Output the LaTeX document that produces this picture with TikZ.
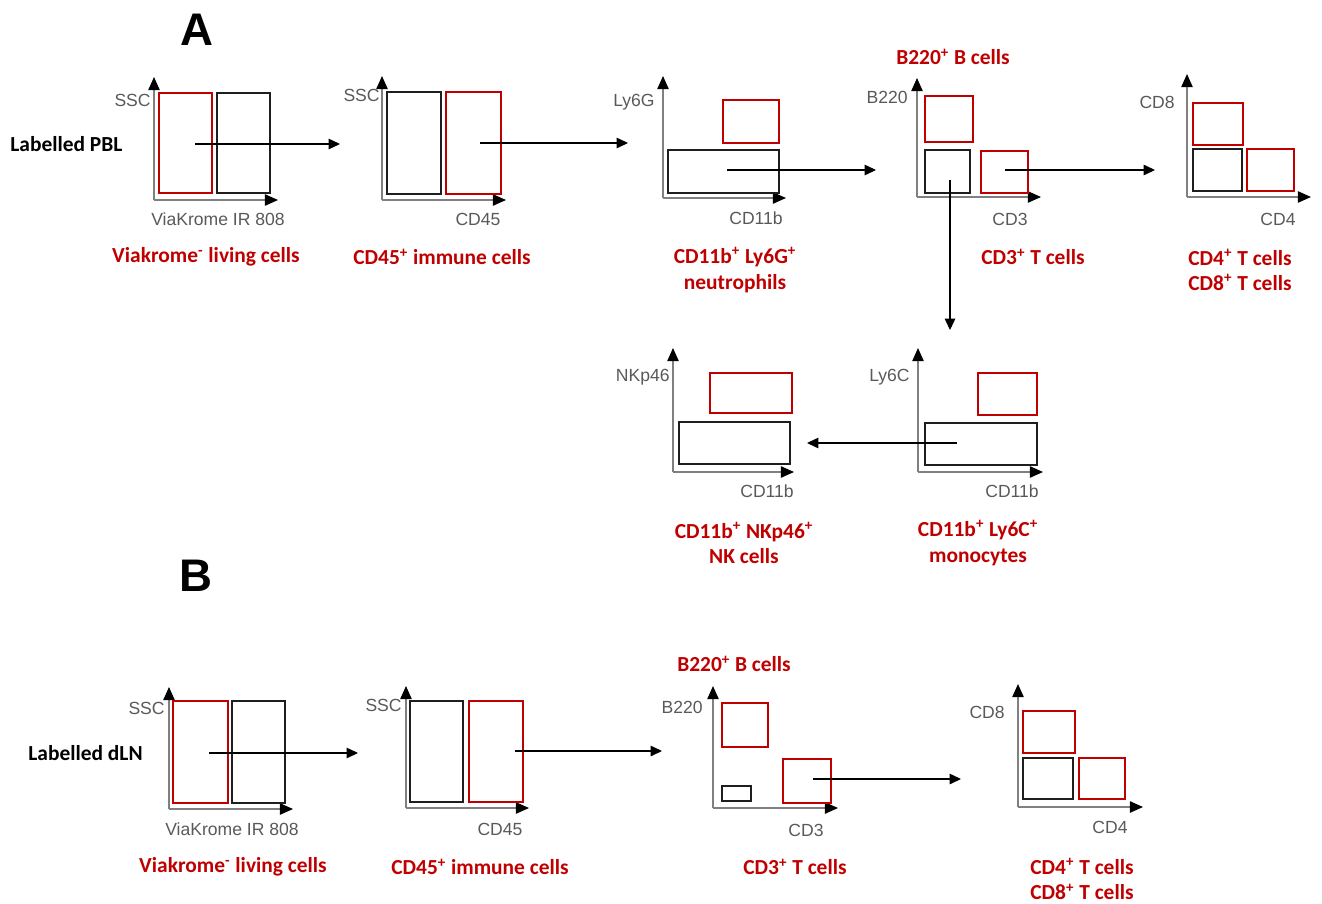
\documentclass[tikz,border=0pt]{standalone}
\usepackage{fontspec}
\usetikzlibrary{arrows.meta,fit}
\newfontfamily\calb{Carlito}
\newfontfamily\arl{Liberation Sans}

\begin{document}
\begin{tikzpicture}[
    x=0.02cm, y=-0.02cm,
    every node/.style={inner sep=0pt},
    axis/.style={draw=axgray, line width=0.8pt, -{Triangle[length=7.5pt,width=6.5pt,color=black]}},
    flow/.style={draw=black, line width=0.6pt, -{Triangle[length=6.5pt,width=6pt]}},
    redgate/.style={draw=gred, line width=1.6pt},
    blkgate/.style={draw=gblk, line width=1.2pt},
    axlab/.style={font=\arl\fontsize{10}{11}\selectfont, text=axtxt},
    poplab/.style={font=\calb\bfseries\fontsize{12.2}{14.5}\selectfont, text=gred, align=center},
    sample/.style={font=\calb\bfseries\fontsize{12.2}{14}\selectfont, anchor=west},
    panel/.style={font=\arl\bfseries\fontsize{26}{30}\selectfont}
]
\definecolor{gred}{RGB}{192,0,0}
\definecolor{gblk}{RGB}{30,30,30}
\definecolor{axgray}{RGB}{128,128,128}
\definecolor{axtxt}{RGB}{89,89,89}

\useasboundingbox (0,0) rectangle (1322,903);

    \node[panel] (pa) at (197,30) {A};
    \node[panel] (pb) at (196,576) {B};
    \node[sample] (pbl) at (10,144) {Labelled PBL};
    \node[sample] (dln) at (28,753) {Labelled dLN};

    \foreach \ox/\oy/\tx/\ty in {154/200/278/77, 382/200/506/76, 663/198/786/76,
        917/197/1041/78, 1187/197/1311/74, 918/472/1043/348, 673/472/794/348,
        169/809/293/687, 406/808/529/686, 713/808/838/686, 1018/807/1143/684}{
        \draw[axis] (\ox,\oy) -- (\tx,\oy);
        \draw[axis] (\ox,\oy) -- (\ox,\ty);
    }

    \node[redgate, fit={(159,93) (212,193)}] (a1r) {};
    \node[blkgate, fit={(217,93) (270,193)}] (a1k) {};
    \node[blkgate, fit={(387,92) (441,194)}] (a2k) {};
    \node[redgate, fit={(446,92) (501,194)}] (a2r) {};
    \node[redgate, fit={(723,100) (779,143)}] (a3r) {};
    \node[blkgate, fit={(668,150) (779,193)}] (a3k) {};
    \node[redgate, fit={(925,96) (973,142)}] (a4b) {};
    \node[blkgate, fit={(925,150) (970,193)}] (a4k) {};
    \node[redgate, fit={(981,151) (1028,193)}] (a4t) {};
    \node[redgate, fit={(1193,103) (1243,145)}] (a5u) {};
    \node[blkgate, fit={(1193,149) (1242,191)}] (a5k) {};
    \node[redgate, fit={(1247,149) (1294,191)}] (a5r) {};
    \node[redgate, fit={(978,373) (1037,415)}] (a6r) {};
    \node[blkgate, fit={(925,423) (1037,465)}] (a6k) {};
    \node[redgate, fit={(710,373) (792,413)}] (a7r) {};
    \node[blkgate, fit={(679,422) (790,464)}] (a7k) {};

    \node[redgate, fit={(173,701) (228,803)}] (b1r) {};
    \node[blkgate, fit={(232,701) (285,803)}] (b1k) {};
    \node[blkgate, fit={(410,701) (463,802)}] (b2k) {};
    \node[redgate, fit={(469,701) (523,802)}] (b2r) {};
    \node[redgate, fit={(722,703) (768,747)}] (b3b) {};
    \node[blkgate, fit={(722,786) (751,801)}] (b3k) {};
    \node[redgate, fit={(783,759) (831,803)}] (b3t) {};
    \node[redgate, fit={(1023,711) (1075,753)}] (b4u) {};
    \node[blkgate, fit={(1023,758) (1073,799)}] (b4k) {};
    \node[redgate, fit={(1079,758) (1125,799)}] (b4r) {};

    \node[axlab, anchor=east] (a1y) at (151,100) {SSC};
    \node[axlab] (a1x) at (218,219) {ViaKrome IR 808};
    \node[axlab, anchor=east] (a2y) at (380,95) {SSC};
    \node[axlab] (a2x) at (478,219) {CD45};
    \node[axlab, anchor=east] (a3y) at (655,102) {Ly6G};
    \node[axlab] (a3x) at (756,218) {CD11b};
    \node[axlab, anchor=east] (a4y) at (908,97) {B220};
    \node[axlab] (a4x) at (1010,219) {CD3};
    \node[axlab, anchor=east] (a5y) at (1175,102) {CD8};
    \node[axlab] (a5x) at (1278,219) {CD4};
    \node[axlab, anchor=east] (a6y) at (910,377) {Ly6C};
    \node[axlab] (a6x) at (1012,491) {CD11b};
    \node[axlab, anchor=east] (a7y) at (670,377) {NKp46};
    \node[axlab] (a7x) at (767,491) {CD11b};
    \node[axlab, anchor=east] (b1y) at (165,708) {SSC};
    \node[axlab] (b1x) at (232,829) {ViaKrome IR 808};
    \node[axlab, anchor=east] (b2y) at (402,705) {SSC};
    \node[axlab] (b2x) at (500,829) {CD45};
    \node[axlab, anchor=east] (b3y) at (703,707) {B220};
    \node[axlab] (b3x) at (806,830) {CD3};
    \node[axlab, anchor=east] (b4y) at (1005,712) {CD8};
    \node[axlab] (b4x) at (1110,827) {CD4};

    \node[poplab] (a1p) at (206,257) {Viakrome\textsuperscript{-} living cells};
    \node[poplab] (a2p) at (442,257) {CD45\textsuperscript{+} immune cells};
    \node[poplab] (a3p) at (735,270) {CD11b\textsuperscript{+} Ly6G\textsuperscript{+}\\neutrophils};
    \node[poplab] (a4b) at (953,57) {B220\textsuperscript{+} B cells};
    \node[poplab] (a4p) at (1033,257) {CD3\textsuperscript{+} T cells};
    \node[poplab] (a5p) at (1240,270) {CD4\textsuperscript{+} T cells\\CD8\textsuperscript{+} T cells};
    \node[poplab] (a6p) at (978,543) {CD11b\textsuperscript{+} Ly6C\textsuperscript{+}\\monocytes};
    \node[poplab] (a7p) at (744,543) {CD11b\textsuperscript{+} NKp46\textsuperscript{+}\\NK cells};
    \node[poplab] (b1p) at (233,867) {Viakrome\textsuperscript{-} living cells};
    \node[poplab] (b2p) at (480,867) {CD45\textsuperscript{+} immune cells};
    \node[poplab] (b3b) at (734,664) {B220\textsuperscript{+} B cells};
    \node[poplab] (b3p) at (795,867) {CD3\textsuperscript{+} T cells};
    \node[poplab] (b4p) at (1082,879) {CD4\textsuperscript{+} T cells\\CD8\textsuperscript{+} T cells};

    \coordinate (a1s) at (195,144);
    \coordinate (a1e) at (340,144);
    \coordinate (a2s) at (480,143);
    \coordinate (a2e) at (628,143);
    \coordinate (a3s) at (727,170);
    \coordinate (a3e) at (876,170);
    \coordinate (a4s) at (1005,170);
    \coordinate (a4e) at (1155,170);
    \coordinate (a4d) at (950,180);
    \coordinate (a4f) at (950,330);
    \coordinate (a6s) at (957,443);
    \coordinate (a6e) at (807,443);
    \coordinate (b1s) at (209,753);
    \coordinate (b1e) at (358,753);
    \coordinate (b2s) at (515,751);
    \coordinate (b2e) at (662,751);
    \coordinate (b3s) at (813,779);
    \coordinate (b3e) at (961,779);

    \draw[flow] (a1s) -- (a1e);
    \draw[flow] (a2s) -- (a2e);
    \draw[flow] (a3s) -- (a3e);
    \draw[flow] (a4s) -- (a4e);
    \draw[flow] (a4d) -- (a4f);
    \draw[flow] (a6s) -- (a6e);
    \draw[flow] (b1s) -- (b1e);
    \draw[flow] (b2s) -- (b2e);
    \draw[flow] (b3s) -- (b3e);
\end{tikzpicture}
\end{document}
